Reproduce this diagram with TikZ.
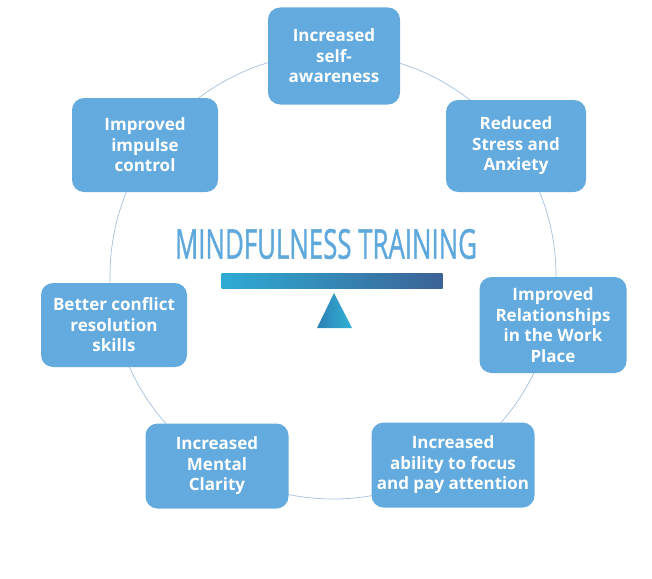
\documentclass[tikz,border=0pt]{standalone}
\usepackage{fontspec}
\setmainfont{Open Sans}
\newfontfamily\titlefont[FakeBold=1.2]{Open Sans}
\usetikzlibrary{positioning}

\definecolor{boxblue}{RGB}{99,170,222}
\definecolor{titleblue}{RGB}{94,168,220}
\definecolor{ringblue}{RGB}{165,192,222}
\definecolor{barlight}{RGB}{46,172,212}
\definecolor{bardark}{RGB}{60,98,150}
\definecolor{tridark}{RGB}{44,128,180}
\definecolor{trilight}{RGB}{50,178,212}

\begin{document}
\begin{tikzpicture}[
        x=1pt, y=-1pt,
        box/.style={fill=boxblue, rounded corners=12pt, align=center, text=white,
            font=\fontsize{17}{20.5}\selectfont\bfseries, inner sep=2pt},
        ring/.style={draw=ringblue, line width=0.7pt}
    ]
    \useasboundingbox (0,0) rectangle (652,578);

    % --- Ring ---
    \coordinate (centre) at (333,276);
    \draw[ring] (centre) circle[radius=223pt];

    % --- Benefits ---
    \node[box, minimum width=132pt, minimum height=97pt] (selfaware) at (334,56) {Increased\\self-\\awareness};
    \node[box, minimum width=140pt, minimum height=92pt] (stress) at (516,146) {Reduced\\Stress and\\Anxiety};
    \node[box, minimum width=147pt, minimum height=96pt] (relations) at (553,325) {Improved\\Relationships\\in the Work\\Place};
    \node[box, minimum width=163pt, minimum height=85pt] (focus) at (453,465) {Increased\\ability to focus\\and pay attention};
    \node[box, minimum width=143pt, minimum height=85pt] (clarity) at (217,466) {Increased\\Mental\\Clarity};
    \node[box, minimum width=146pt, minimum height=84pt] (conflict) at (114,325) {Better conflict\\resolution\\skills};
    \node[box, minimum width=146pt, minimum height=94pt] (impulse) at (145,145) {Improved\\impulse\\control};

    % --- Title and balance ---
    \node[text=titleblue, font=\fontsize{41}{46}\titlefont] (title) at (326,244)
        {\scalebox{0.63}[1]{MINDFULNESS TRAINING}};
    \node[left color=barlight, right color=bardark, minimum width=221pt, minimum height=15pt,
        inner sep=0pt] (bar) at (332,281) {};
    \path[left color=tridark, right color=trilight] (334,293) -- (352,328) -- (317,328) -- cycle;

\end{tikzpicture}
\end{document}
